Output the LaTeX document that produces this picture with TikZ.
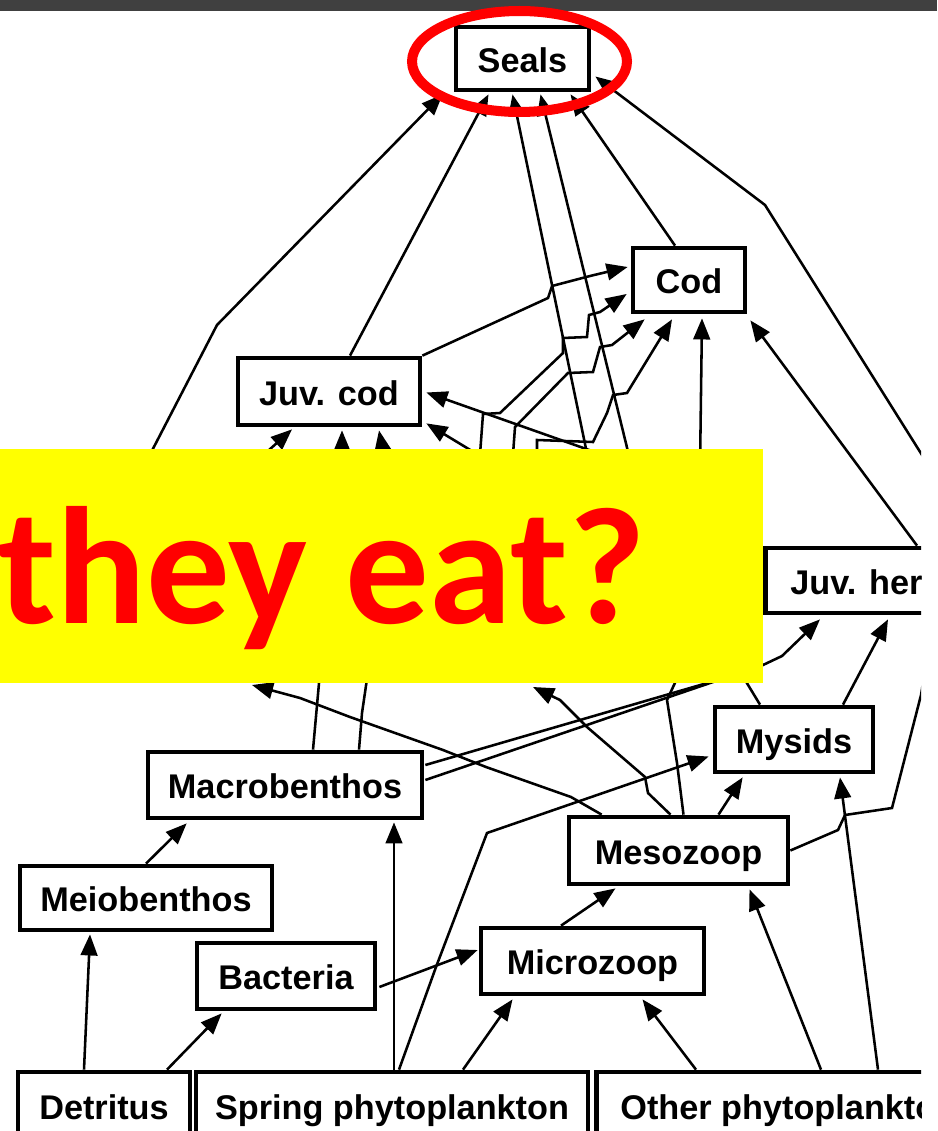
\documentclass[tikz,border=0pt]{standalone}
\usepackage{fontspec}
\setmainfont{Liberation Sans}
\newfontfamily\bannerfont{Carlito}
\usetikzlibrary{positioning, arrows.meta, calc}
\definecolor{slidebar}{HTML}{404040}
\definecolor{bannerred}{HTML}{FF0000}
\definecolor{banneryellow}{HTML}{FFFF00}

\begin{document}
\begin{tikzpicture}[x=0.02cm, y=-0.02cm,
    taxon/.style={draw, line width=2.7pt, inner sep=0pt,
        font=\bfseries\fontsize{19.5}{19.5}\selectfont, text height=15.8pt, text depth=0pt},
    feeds/.style={-{Triangle[length=12pt, width=9.5pt]}, line width=1.45pt},
    link/.style={line width=1.45pt}]

    \useasboundingbox (0,0) rectangle (937,1131);
    % Slide bar
    \fill[slidebar] (0,0) rectangle (937,11);

    \begin{scope}
    \clip (0,11) rectangle (921,1131);

    % Predators
    \node[taxon, minimum width=2.66cm, minimum height=1.26cm] (seals) at (522.5,58.5) {Seals};
    \node[taxon, minimum width=2.24cm, minimum height=1.28cm] (cod) at (689,280) {Cod};
    \node[taxon, minimum width=3.64cm, minimum height=1.34cm] (juvcod) at (329,391.5) {Juv. cod};
    \node[taxon, minimum height=1.3cm, inner xsep=0.5cm, anchor=west] (juvher) at (763,580.5) {Juv. herr};

    % Invertebrates
    \node[taxon, minimum width=3.16cm, minimum height=1.3cm] (mysids) at (794,739.5) {Mysids};
    \node[taxon, minimum width=4.38cm, minimum height=1.34cm] (mesozoop) at (678.5,850.5) {Mesozoop};
    \node[taxon, minimum width=5.48cm, minimum height=1.32cm] (macro) at (285,785) {Macrobenthos};
    \node[taxon, minimum width=5.04cm, minimum height=1.28cm] (meio) at (146,898) {Meiobenthos};
    \node[taxon, minimum width=3.56cm, minimum height=1.32cm] (bacteria) at (286,976) {Bacteria};
    \node[taxon, minimum width=4.46cm, minimum height=1.32cm] (microzoop) at (592.5,961) {Microzoop};

    % Base of the web
    \node[taxon, minimum width=3.44cm, minimum height=1.36cm] (detritus) at (104,1106) {Detritus};
    \node[taxon, minimum width=7.84cm, minimum height=1.36cm] (spring) at (392,1106) {Spring phytoplankton};
    \node[taxon, minimum height=1.36cm, inner xsep=0.48cm, anchor=west] (other) at (594,1106) {Other phytoplankto};

    % Ends hidden under the banner
    \coordinate (hA) at (142,470);
    \coordinate (hB) at (590,468);
    \coordinate (hC) at (632,468);
    \coordinate (hD) at (479,468);
    \coordinate (hE) at (512,468);
    \coordinate (hF) at (537,468);
    \coordinate (hG) at (700,468);
    \coordinate (hH) at (640,468);
    \coordinate (hI) at (500,468);
    \coordinate (hJ) at (249,468);
    \coordinate (hK) at (342,468);
    \coordinate (hL) at (386,468);
    \coordinate (hM) at (745,672);
    \coordinate (hN) at (320,672);
    \coordinate (hO) at (368,672);
    \coordinate (hP) at (680,672);
    \coordinate (hQ) at (742,675);
    \coordinate (tA) at (252,685);
    \coordinate (tB) at (533,687);
    \coordinate (oR1) at (940,490);
    \coordinate (oR2) at (930,640);

    % Into seals
    \draw[feeds] (hA) -- (217,325) -- ($(seals.south west)+(-11,2)$);
    \draw[feeds] ($(juvcod.north)+(21,0)$) -- ($(seals.south)+(-34,2)$);
    \draw[feeds] (hB) -- ($(seals.south)+(-10,2)$);
    \draw[feeds] (hC) -- ($(seals.south)+(18,2)$);
    \draw[feeds] ($(cod.north)+(-14,0)$) -- ($(seals.south)+(48,2)$);
    \draw[feeds] (oR1) -- (922,455) -- (765,205) -- ($(seals.east)+(4,18)$);

    % Into cod
    \draw[feeds] (juvcod.north east) -- (548,298) -- (552,286) -- (590,276) -- ($(cod.west)+(-3,-13)$);
    \draw[feeds] (hD) -- (483,414) -- (500,413) -- (563,353) -- (563,338) -- (587,337) -- (589,315) -- (600,312) -- ($(cod.west)+(-4,14)$);
    \draw[feeds] (hE) -- (515,427) -- (568,373) -- (593,372) -- (600,347) -- (612,345) -- ($(cod.south west)+(14,5)$);
    \draw[feeds] (hF) -- (537,440) -- (593,442) -- (607,413) -- (613,395) -- (627,393) -- ($(cod.south)+(-17,5)$);
    \draw[feeds] (hG) -- ($(cod.south)+(13,4)$);
    \draw[feeds] ($(juvher.north west)+(154,0)$) -- ($(cod.south east)+(3,6)$);

    % Into juv. cod
    \draw[feeds] (hH) -- ($(juvcod.east)+(4,1)$);
    \draw[feeds] (hI) -- ($(juvcod.south east)+(4,-4)$);
    \draw[feeds] (hJ) -- ($(juvcod.south)+(-37,2)$);
    \draw[feeds] (hK) -- ($(juvcod.south)+(13,3)$);
    \draw[feeds] (hL) -- ($(juvcod.south)+(50,3)$);

    % Into juv. herring
    \draw[feeds] ($(macro.east)+(1,-5)$) -- (763,665) -- (782,656) -- ($(juvher.south west)+(57,4)$);
    \draw[feeds] ($(mysids.north)+(49,0)$) -- ($(juvher.south west)+(125,4)$);

    % Macrobenthos upwards
    \draw[link] ($(macro.east)+(1,-20)$) -- (hM);
    \draw[link] ($(macro.north)+(28,0)$) -- (hN);
    \draw[link] ($(macro.north)+(74,0)$) -- (362,713) -- (hO);

    % Mesozoop upwards
    \draw[feeds] ($(mesozoop.north west)+(35,0)$) -- (571,797) -- (486,767) -- (443,750) -- (350,717) -- (300,698) -- (tA);
    \draw[feeds] ($(mesozoop.north)+(-8,0)$) -- (648,793) -- (645,777) -- (587,727) -- (560,700) -- (tB);
    \draw[link] ($(mesozoop.north)+(5,0)$) -- (677,763) -- (667,700) -- (hP);
    \draw[feeds] ($(mesozoop.north)+(40,0)$) -- ($(mysids.south west)+(30,3)$);
    \draw[link] (mesozoop.east) -- (838,830) -- (845,815) -- (892,808) -- (921,695) -- (oR2);

    % Mysids
    \draw[link] ($(mysids.north)+(-34,0)$) -- (hQ);
    \draw[feeds] ($(spring.north)+(7,0)$) -- (436,967) -- (487,833) -- ($(mysids.west)+(-4,17)$);
    \draw[feeds] ($(other.north west)+(284,0)$) -- ($(mysids.south)+(46,3)$);

    % Lower web
    \draw[feeds] (meio.north) -- ($(macro.south west)+(41,3)$);
    \draw[feeds] ($(spring.north)+(2,0)$) -- ($(macro.south)+(109,2)$);
    \draw[feeds] ($(detritus.north)+(-20,0)$) -- ($(meio.south)+(-56,2)$);
    \draw[feeds] ($(detritus.north)+(63,0)$) -- ($(bacteria.south west)+(27,2)$);
    \draw[feeds] ($(bacteria.east)+(2,11)$) -- ($(microzoop.west)+(-1,-11)$);
    \draw[feeds] ($(spring.north)+(71,0)$) -- ($(microzoop.south)+(-80,3)$);
    \draw[feeds] ($(other.north west)+(102,0)$) -- ($(microzoop.south)+(50,3)$);
    \draw[feeds] ($(microzoop.north)+(-31.5,0)$) -- ($(mesozoop.south)+(-63,2)$);
    \draw[feeds] ($(other.north west)+(227,0)$) -- ($(mesozoop.south)+(71,3)$);
    \end{scope}

    % Banner
    \fill[banneryellow] (0,449) rectangle (763,683);
    \node[anchor=base east, inner sep=0pt, text=bannerred,
        font=\bannerfont\bfseries\fontsize{95}{95}\selectfont] (question) at (646,623) {they eat?};

    % Highlight
    \draw[bannerred, line width=5.7pt] (519.5,61.5) ellipse [x radius=2.15cm, y radius=1.01cm];
\end{tikzpicture}
\end{document}
